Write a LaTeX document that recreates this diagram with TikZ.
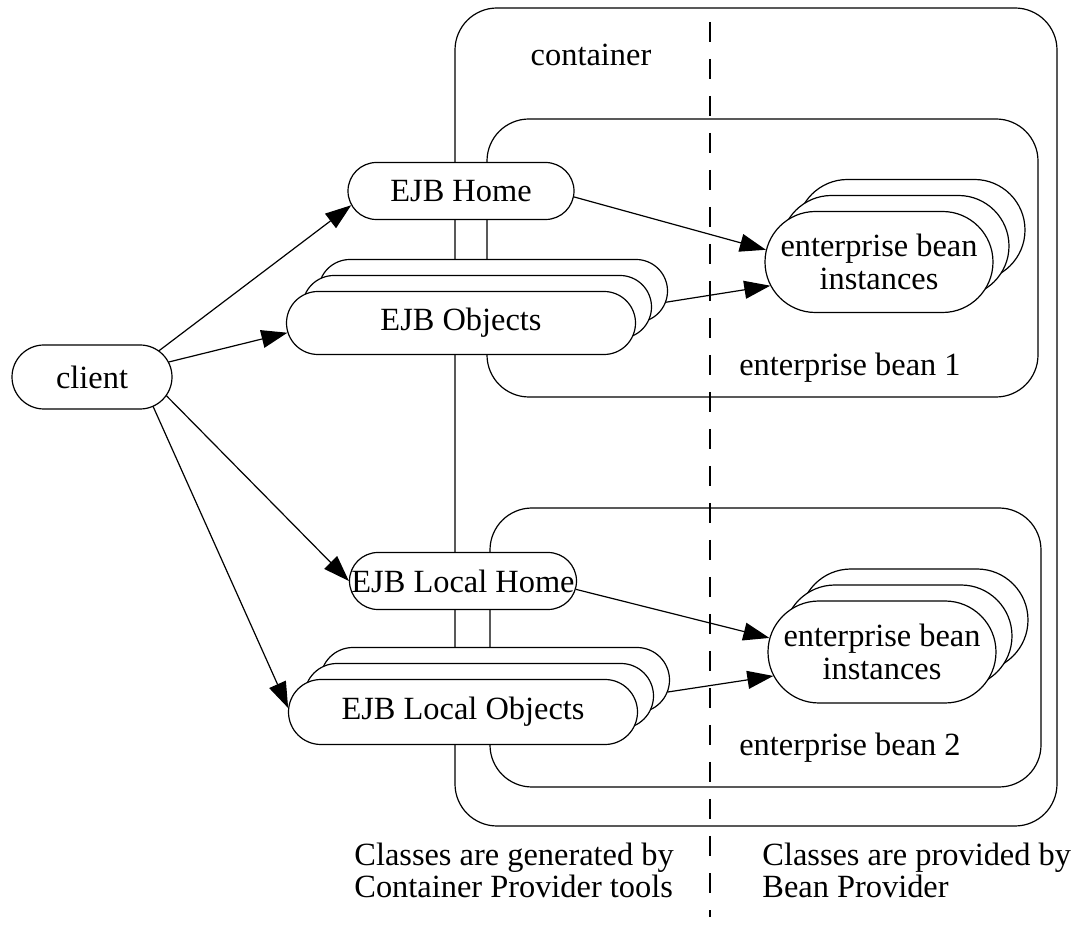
\documentclass[tikz,border=0pt]{standalone}
\usepackage{fontspec}
\setmainfont{Liberation Serif}
\usetikzlibrary{arrows.meta,calc,shadows}

\begin{document}
\begin{tikzpicture}[
    x=0.5pt, y=-0.5pt,
    >={Triangle[length=13pt,width=9pt]},
    every node/.style={font=\fontsize{16.2}{16.5}\selectfont},
    pill/.style 2 args={
        rectangle,
        draw=black,
        fill=white,
        line width=0.6pt,
        rounded corners=#2/2,
        minimum width=#1,
        minimum height=#2,
        inner xsep=0pt,
        inner ysep=1pt,
        align=center
    },
    stack/.style={
        copy shadow={shadow xshift=16pt, shadow yshift=16pt, line width=0.6pt},
        copy shadow={shadow xshift=8pt, shadow yshift=8pt, line width=0.6pt}
    },
    frame/.style={draw=black, line width=0.6pt, rounded corners=21pt},
    divider/.style={draw=black, line width=0.9pt, dash pattern=on 10pt off 8.5pt},
    call/.style={->, line width=0.6pt},
    caption/.style={anchor=north west, align=left, inner sep=0pt,
        font=\fontsize{16.2}{14.5}\selectfont}
]
\path[use as bounding box] (0,0) rectangle (1073,925);

% ==================== Container and the two bean boxes ====================
\draw[frame] (455,8) rectangle (1057,826);
\draw[frame] (487,119) rectangle (1038,397);
\draw[frame] (490,508) rectangle (1041,787);

\node (contlabel) at (591,55) {container};
\node (bean1label) at (850,368) {enterprise bean 1};
\node (bean2label) at (850,748) {enterprise bean 2};

% split between generated and provided classes
\coordinate (divtop) at (710,22);
\coordinate (divbot) at (710,917);
\draw[divider] (divtop) -- (divbot);

% ==================== Client side ====================
\node[pill={80pt}{32pt}] (client) at (92,377) {client};

\node[pill={113pt}{28.5pt}]           (home)     at (461,191) {EJB Home};
\node[pill={174.5pt}{31.5pt}, stack]  (objects)  at (461,323) {EJB Objects};
\node[pill={113.5pt}{28.5pt}]         (lhome)    at (463,581) {EJB Local Home};
\node[pill={174.5pt}{32.5pt}, stack]  (lobjects) at (463,712) {EJB Local Objects};

% ==================== Bean instances ====================
\node[pill={114pt}{50.5pt}, stack] (inst1) at (879,262) {enterprise bean\\instances};
\node[pill={114pt}{51pt}, stack]   (inst2) at (882,652) {enterprise bean\\instances};

% calls from the client (end points sit on the rounded ends)
\draw[call] ($([xshift=-16pt]client.east)+(55:16pt)$)  -- ($([xshift=14.25pt]home.west)+(210:14.25pt)$);
\draw[call] ($([xshift=-16pt]client.east)+(28:16pt)$)  -- ($([xshift=15.75pt]objects.west)+(198:15.75pt)$);
\draw[call] ($([xshift=-16pt]client.east)+(-36:16pt)$) -- (lhome.west);
\draw[call] ($([xshift=-16pt]client.east)+(-67:16pt)$) -- ($([xshift=16.25pt]lobjects.west)+(173:16.25pt)$);

% calls into the instances
\draw[call] ($([xshift=-14.25pt]home.east)+(-12:14.25pt)$)   -- ($([xshift=25.25pt]inst1.west)+(166:25.25pt)$);
\draw[call] ([xshift=15pt,yshift=10.4pt]objects.east)        -- ($([xshift=25.25pt]inst1.west)+(208:25.25pt)$);
\draw[call] ($([xshift=-14.25pt]lhome.east)+(-17:14.25pt)$)  -- ($([xshift=25.5pt]inst2.west)+(164:25.5pt)$);
\draw[call] ([xshift=14.85pt,yshift=10pt]lobjects.east)      -- ($([xshift=25.5pt]inst2.west)+(208:25.5pt)$);

% Captions under the divider
\node[caption] (gencap)  at (354,843) {Classes are generated by\\Container Provider tools};
\node[caption] (provcap) at (762,843) {Classes are provided by\\Bean Provider};

\end{tikzpicture}
\end{document}
